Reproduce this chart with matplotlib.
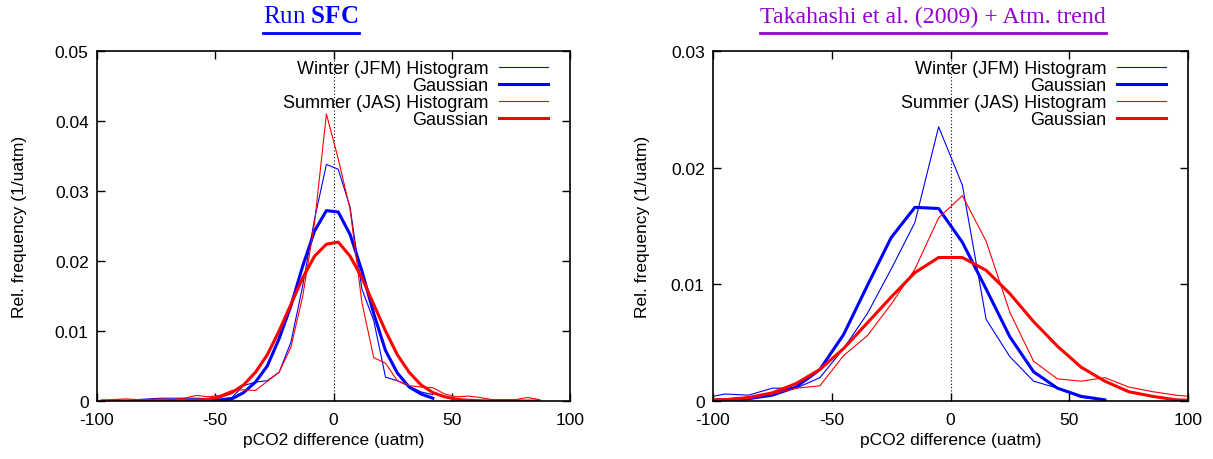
import numpy as np
import matplotlib
matplotlib.use('Agg')
import matplotlib.pyplot as plt
from matplotlib.lines import Line2D

plt.rcParams['font.family'] = ['Liberation Sans', 'DejaVu Sans']
plt.rcParams['mathtext.fontset'] = 'custom'
plt.rcParams['mathtext.rm'] = 'Liberation Serif'
plt.rcParams['mathtext.bf'] = 'Liberation Serif:bold'
plt.rcParams['axes.unicode_minus'] = False

# Run SFC: bins every 5 uatm
sfc_x = [-98, -93, -88, -83, -78, -73, -68, -63, -58, -53, -48, -43, -38, -33, -28, -23,
         -18, -13, -8, -3, 2, 7, 12, 17, 22, 27, 32, 37, 42, 47, 52, 57, 62, 67, 72, 77, 82, 87]
sfc_win_x = sfc_x[3:29]
sfc_win_hist = [0.0002, 0.0003, 0.0004, 0.0004, 0.0004, 0.0004, 0.0003, 0.0003, 0.0005, 0.0022,
                0.0027, 0.0029, 0.0041, 0.0084, 0.0165, 0.0260, 0.0338, 0.0331, 0.0277, 0.0160,
                0.0115, 0.0034, 0.0029, 0.0021, 0.0013, 0.0009]
sfc_win_gauss = [0.0, 0.0, 0.0, 0.0, 0.0, 0.0, 0.00002, 0.0001, 0.0003, 0.0012,
                 0.0027, 0.0050, 0.0089, 0.0136, 0.0193, 0.0243, 0.0272, 0.0270, 0.0238, 0.0186,
                 0.0125, 0.0072, 0.0040, 0.0020, 0.0010, 0.0004]
sfc_sum_hist = [0.0001, 0.0002, 0.0003, 0.0002, 0.0002, 0.0003, 0.0002, 0.0004, 0.0008, 0.0006,
                0.0008, 0.0015, 0.0016, 0.0015, 0.0028, 0.0041, 0.0077, 0.0150, 0.0255, 0.0410,
                0.0346, 0.0274, 0.0141, 0.0062, 0.0054, 0.0029, 0.0022, 0.0020, 0.0019, 0.0010,
                0.0006, 0.0007, 0.0005, 0.0002, 0.0002, 0.0002, 0.0005, 0.0002]
sfc_sum_gauss = [0.0, 0.0, 0.0, 0.0, 0.0, 0.0, 0.00001, 0.00004, 0.0001, 0.00025,
                 0.0006, 0.0012, 0.0023, 0.0041, 0.0066, 0.0100, 0.0138, 0.0176, 0.0207, 0.0224,
                 0.0227, 0.0207, 0.0176, 0.0138, 0.0100, 0.0066, 0.0041, 0.0023, 0.0012, 0.0006,
                 0.00025, 0.0001, 0.00004, 0.00001, 0.0, 0.0, 0.0, 0.0]

# Takahashi et al. (2009) + Atm. trend: bins every 10 uatm
tak_x = [-105, -95, -85, -75, -65, -55, -45, -35, -25, -15, -5, 5, 15, 25, 35, 45, 55, 65,
         75, 85, 95, 105]
tak_win_x = tak_x[:18]
tak_win_hist = [0.0002, 0.0006, 0.0005, 0.0011, 0.0011, 0.0020, 0.0045, 0.0075, 0.0113, 0.0153,
                0.0235, 0.0185, 0.0070, 0.0038, 0.0017, 0.0011, 0.0003, 0.0001]
tak_win_gauss = [0.00005, 0.0001, 0.0002, 0.0005, 0.0012, 0.0027, 0.0057, 0.0099, 0.0140, 0.0166,
                 0.0165, 0.0136, 0.0096, 0.0055, 0.0025, 0.0011, 0.0004, 0.0001]
tak_sum_hist = [0.0001, 0.0002, 0.0003, 0.0006, 0.0011, 0.0013, 0.0039, 0.0056, 0.0083, 0.0113,
                0.0157, 0.0176, 0.0137, 0.0076, 0.0034, 0.0019, 0.0017, 0.0020, 0.0012, 0.0008,
                0.0005, 0.0003]
tak_sum_gauss = [0.00005, 0.0001, 0.0003, 0.0007, 0.0015, 0.0027, 0.0045, 0.0067, 0.0089, 0.0110,
                 0.0123, 0.0123, 0.0112, 0.0092, 0.0068, 0.0047, 0.0029, 0.0017, 0.0008, 0.0004,
                 0.0001, 0.00005]

labels = ['Winter (JFM) Histogram', 'Gaussian', 'Summer (JAS) Histogram', 'Gaussian']

fig = plt.figure(figsize=(12.13, 4.6), dpi=100)
ax1 = fig.add_axes([97/1213, 58/460, 473/1213, 350/460])
ax2 = fig.add_axes([713/1213, 58/460, 475/1213, 350/460])


def panel(ax, xw, wh, wg, xs, sh, sg, ymax, yticks, ylab_x, width_px):
    ax.axvline(0, color='black', ls=(0, (1, 2)), lw=0.8)
    ax.plot(xw, wh, color='#0000ff', lw=0.8, label=labels[0])
    ax.plot(xw, wg, color='#0000ff', lw=2.2, label=labels[1])
    ax.plot(xs, sh, color='#ff0000', lw=0.8, label=labels[2])
    ax.plot(xs, sg, color='#ff0000', lw=2.2, label=labels[3])
    ax.set_xlim(-100, 100)
    ax.set_ylim(0, ymax)
    ax.set_xticks([-100, -50, 0, 50, 100])
    ax.set_yticks(yticks)
    ax.set_yticklabels(['0' if v == 0 else '%.2f' % v for v in yticks])
    ax.tick_params(direction='in', top=True, right=True, length=6, width=1,
                   labelsize=12.5, pad=6)
    ax.tick_params(axis='x', pad=8)
    for s in ax.spines.values():
        s.set_linewidth(1.2)
    ax.set_xlabel('pCO2 difference (uatm)', fontsize=12.5)
    ax.set_ylabel('Rel. frequency (1/uatm)', fontsize=12.5)
    ax.xaxis.set_label_coords(0.5, -0.09)
    ax.yaxis.set_label_coords(ylab_x, 0.5)
    ax.legend(loc='upper right', bbox_to_anchor=(1 - 22/width_px, 1 - 9/350),
              frameon=False, markerfirst=False, fontsize=13,
              handlelength=2.7, labelspacing=0.0, borderaxespad=0, handletextpad=0.6,
              borderpad=0)


panel(ax1, sfc_win_x, sfc_win_hist, sfc_win_gauss, sfc_x, sfc_sum_hist, sfc_sum_gauss,
      0.05, [0, 0.01, 0.02, 0.03, 0.04, 0.05], -0.147, 473)
panel(ax2, tak_win_x, tak_win_hist, tak_win_gauss, tak_x, tak_sum_hist, tak_sum_gauss,
      0.03, [0, 0.01, 0.02, 0.03], -0.133, 475)

# titles, underlined like links
t1 = fig.text(311/1213, 1 - 17/460, r'Run $\mathbf{SFC}$', color='#0000ff', fontsize=18,
              family='Liberation Serif', ha='center', va='center')
t2 = fig.text(933/1213, 1 - 17/460, 'Takahashi et al. (2009) + Atm. trend', color='#9400d3',
              fontsize=17.2, family='Liberation Serif', ha='center', va='center')
fig.canvas.draw()
r = fig.canvas.get_renderer()
for t, c in [(t1, '#0000ff'), (t2, '#9400d3')]:
    bb = t.get_window_extent(r)
    y = 1 - 33.5 / 460
    fig.add_artist(Line2D([bb.x0 / fig.bbox.width, bb.x1 / fig.bbox.width], [y, y],
                          color=c, lw=2, transform=fig.transFigure))

fig.savefig('out.png', dpi=100)
